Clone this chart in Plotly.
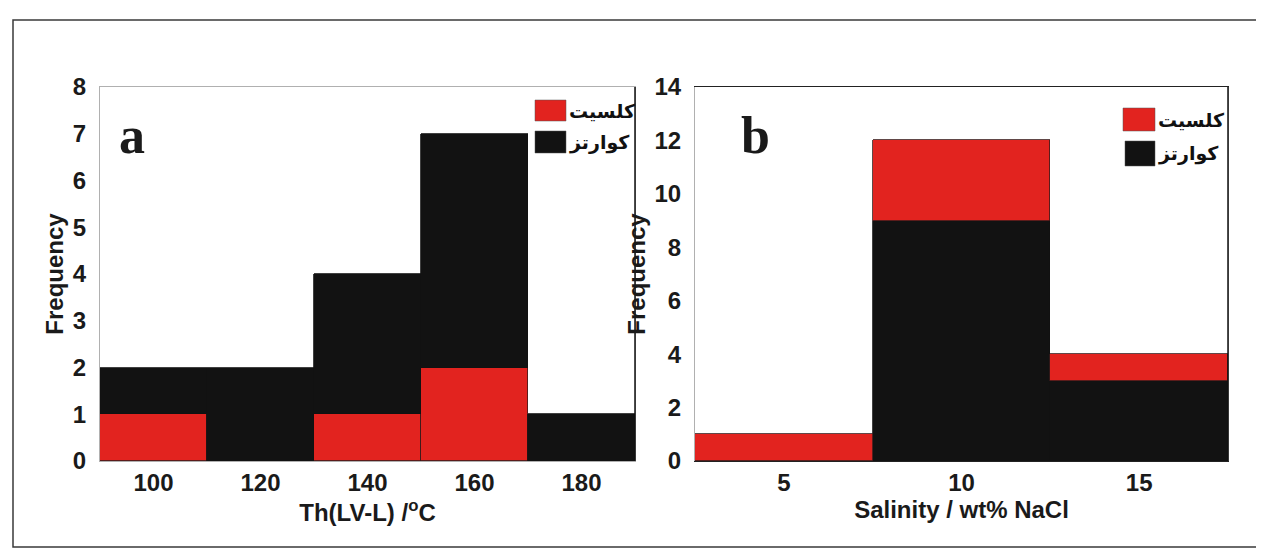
import plotly.graph_objects as go

# ---------------- data ----------------
a_bins = [100, 120, 140, 160, 180]
a_width = 20
a_calcite = [1, 0, 1, 2, 0]
a_quartz = [1, 2, 3, 5, 1]

b_bins = [5, 10, 15]
b_width = 5
b_calcite = [1, 3, 1]
b_quartz = [0, 9, 3]

name_calcite = "کلسیت"
name_quartz = "کوارتز"

RED = "#e2231f"
BLACK = "#121212"

W, H = 1264, 550


def px(x):
    return x / W


def py(y):
    return 1 - y / H


fig = go.Figure()

# panel a : calcite at the bottom, quartz stacked on top
fig.add_trace(go.Bar(x=a_bins, y=a_calcite, width=[a_width] * len(a_bins), name=name_calcite,
                     marker=dict(color=RED, line=dict(color="#3a1a1a", width=0.8)),
                     xaxis="x", yaxis="y", showlegend=False))
fig.add_trace(go.Bar(x=a_bins, y=a_quartz, width=[a_width] * len(a_bins), name=name_quartz,
                     marker=dict(color=BLACK, line=dict(color=BLACK, width=0.8)),
                     xaxis="x", yaxis="y", showlegend=False))
# panel b : quartz at the bottom, calcite stacked on top
fig.add_trace(go.Bar(x=b_bins, y=b_quartz, width=[b_width] * len(b_bins), name=name_quartz,
                     marker=dict(color=BLACK, line=dict(color=BLACK, width=0.8)),
                     xaxis="x2", yaxis="y2", showlegend=False))
fig.add_trace(go.Bar(x=b_bins, y=b_calcite, width=[b_width] * len(b_bins), name=name_calcite,
                     marker=dict(color=RED, line=dict(color="#3a1a1a", width=0.8)),
                     xaxis="x2", yaxis="y2", showlegend=False))

tickfont = dict(family="Liberation Sans, Arial, sans-serif", size=24, color="#1a1a1a", weight="bold")
titlefont = dict(family="Liberation Sans, Arial, sans-serif", size=24, color="#1a1a1a", weight="bold")

ya0, ya1 = py(453), py(79)

fig.update_layout(
    width=W, height=H,
    margin=dict(l=0, r=0, t=0, b=0),
    paper_bgcolor="white", plot_bgcolor="white",
    barmode="stack", bargap=0,
    xaxis=dict(domain=[px(92), px(627)], range=[90, 190], tickvals=a_bins,
               tickfont=tickfont, showgrid=False, zeroline=False, ticks="",
               showline=True, linecolor="#b0b0b0", linewidth=1, mirror=True,
               ticklabelstandoff=0, automargin=False,
               title=dict(text="Th(LV-L) /<sup>o</sup>C", font=titlefont, standoff=0)),
    yaxis=dict(domain=[ya0, ya1], range=[0, 8], dtick=1, anchor="x",
               tickfont=tickfont, showgrid=False, zeroline=False, ticks="",
               showline=True, linecolor="#b0b0b0", linewidth=1, mirror=True,
               ticklabelstandoff=8, automargin=False,
               title=dict(text="Frequency", font=titlefont, standoff=2)),
    xaxis2=dict(domain=[px(687), px(1220)], range=[2.5, 17.5], tickvals=b_bins, anchor="y2",
                tickfont=tickfont, showgrid=False, zeroline=False, ticks="",
                showline=True, linecolor="#222222", linewidth=1, mirror=True,
                ticklabelstandoff=0, automargin=False,
                title=dict(text="Salinity / wt% NaCl", font=titlefont, standoff=0)),
    yaxis2=dict(domain=[ya0, ya1], range=[0, 14], dtick=2, anchor="x2",
                tickfont=tickfont, showgrid=False, zeroline=False, ticks="",
                showline=True, linecolor="#b0b0b0", linewidth=1, mirror=True,
                ticklabelstandoff=8, automargin=False,
                title=dict(text="Frequency", font=titlefont, standoff=2)),
)

shapes = [
    # outer frame
    dict(type="rect", xref="paper", yref="paper", x0=px(5), x1=px(1258), y0=py(539), y1=py(12),
         line=dict(color="#3a3a3a", width=1.5)),
    # dark right edges of both panels
    dict(type="line", xref="x domain", yref="y domain", x0=1, x1=1, y0=0, y1=1,
         line=dict(color="#111111", width=1.5)),
    dict(type="line", xref="x2 domain", yref="y2 domain", x0=1, x1=1, y0=0, y1=1,
         line=dict(color="#111111", width=1.5)),
]

# custom legends (large swatches)
legend_items = [
    ((527, 558, 92, 113), RED, name_calcite),
    ((527, 558, 123, 145), BLACK, name_quartz),
    ((1115, 1147, 100, 123), RED, name_calcite),
    ((1117, 1147, 133, 158), BLACK, name_quartz),
]
annotations = []
for (x0, x1, y0, y1), col, lab in legend_items:
    shapes.append(dict(type="rect", xref="paper", yref="paper", x0=px(x0), x1=px(x1),
                       y0=py(y1), y1=py(y0), fillcolor=col, line=dict(color="#555555", width=0.5)))
    annotations.append(dict(xref="paper", yref="paper", x=px(x1 + 1), y=py((y0 + y1) / 2),
                            xanchor="left", yanchor="middle", showarrow=False, text=lab,
                            font=dict(family="DejaVu Sans", size=19, color="#111111", weight="bold")))

# panel letters
for lab, xx, yy in [("a", 124, 128), ("b", 747, 128)]:
    annotations.append(dict(xref="paper", yref="paper", x=px(xx), y=py(yy), xanchor="center",
                            yanchor="middle", showarrow=False, text=lab,
                            font=dict(family="Liberation Serif, Times New Roman, serif", size=52,
                                      color="#1a1a1a", weight="bold")))

fig.update_layout(shapes=shapes, annotations=annotations)

fig.write_html("out.html")
